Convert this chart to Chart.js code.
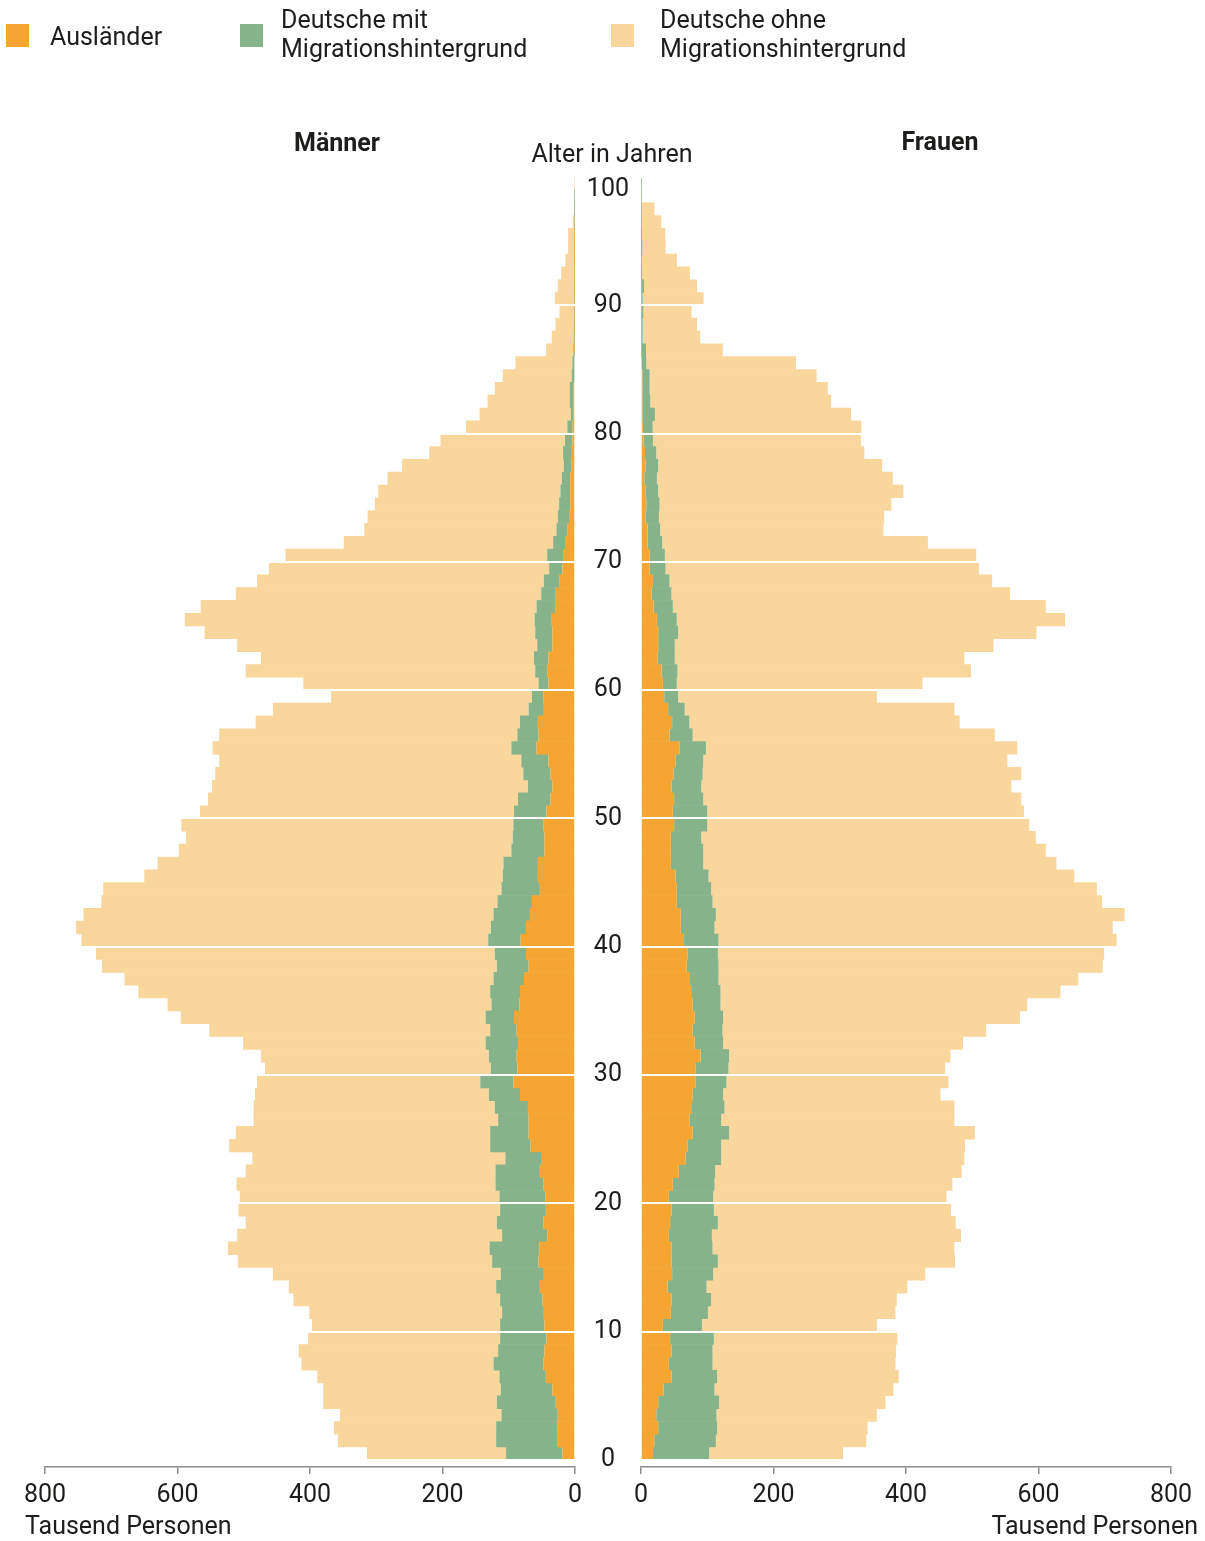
<!DOCTYPE html>
<html lang="de">
<head>
<meta charset="utf-8">
<script src="https://cdn.jsdelivr.net/npm/chart.js@4.4.1/dist/chart.umd.min.js"></script>
<style>
html,body{margin:0;padding:0;background:#fff;}
body{width:1205px;height:1541px;position:relative;overflow:hidden;font-family:Roboto,sans-serif;color:#1d1d1b;}
.abs{position:absolute;}
.txt{font-size:25px;line-height:29px;white-space:nowrap;}
.sw{width:23px;height:23px;}
.b{font-weight:bold;}
</style>
</head>
<body>
<div id="wl" class="abs" style="left:0;top:0;width:600px;height:1541px"><canvas id="cl"></canvas></div>
<div id="wr" class="abs" style="left:575px;top:0;width:630px;height:1541px"><canvas id="cr"></canvas></div>

<div class="abs sw" style="left:6px;top:24px;background:#F5A531"></div>
<div class="abs txt" style="left:50px;top:22px">Ausländer</div>
<div class="abs sw" style="left:240px;top:24px;background:#86B389"></div>
<div class="abs txt" style="left:281px;top:5px">Deutsche mit<br>Migrationshintergrund</div>
<div class="abs sw" style="left:611px;top:24px;background:#F9D69C"></div>
<div class="abs txt" style="left:660px;top:5px">Deutsche ohne<br>Migrationshintergrund</div>

<div class="abs txt b" style="left:237px;width:200px;text-align:center;top:128px">Männer</div>
<div class="abs txt b" style="left:840px;width:200px;text-align:center;top:127px">Frauen</div>
<div class="abs txt" style="left:462px;width:300px;text-align:center;top:139px">Alter in Jahren</div>
<div class="abs txt" style="left:25px;top:1511px">Tausend Personen</div>
<div class="abs txt" style="right:7px;top:1511px">Tausend Personen</div>

<script>
const ages = [0,1,2,3,4,5,6,7,8,9,10,11,12,13,14,15,16,17,18,19,20,21,22,23,24,25,26,27,28,29,30,31,32,33,34,35,36,37,38,39,40,41,42,43,44,45,46,47,48,49,50,51,52,53,54,55,56,57,58,59,60,61,62,63,64,65,66,67,68,69,70,71,72,73,74,75,76,77,78,79,80,81,82,83,84,85,86,87,88,89,90,91,92,93,94,95,96,97,98,99];
const ageTicks = [0,10,20,30,40,50,60,70,80,90,100];
const valueTicks = [0,200,400,600,800];
const seriesNames = ['Ausländer','Deutsche mit Migrationshintergrund','Deutsche ohne Migrationshintergrund'];

// Männer (Tausend Personen), Alter 0..99
const menAuslaender = [19,27,27,26,29,34,44,48,46,43, 46,47,49,53,47,55,54,42,48,44, 45,48,53,50,67,70,70,71,83,93, 87,88,86,88,92,84,83,77,70,74, 82,74,68,65,53,56,56,46,46,48, 43,37,34,37,40,58,55,56,47,48, 40,42,40,34,34,35,30,29,24,19, 18,15,11,9,7,7,7,5,6,4, 3.6,2,2,2,1,1,0.5,0.5,0.3,0.3, 0.3,0.2,0.2,0.1,0.1,0.1,0,0,0,0];
const menMit = [85,92,92,85,89,78,70,75,70,70, 67,63,64,66,65,70,75,68,70,69, 69,72,67,55,61,58,46,50,47,50, 40,42,49,40,43,42,45,46,48,47, 49,53,55,52,58,53,52,50,48,45, 49,49,37,41,41,38,32,27,23,17, 15,18,22,23,26,26,28,22,23,20, 24,18,17,17,17,15,13,12,12,11, 8,4,6,6,4,3,2,1.5,1.2,1, 1,0.8,0.6,0.5,0.4,0.3,0.2,0.1,0.1,0];
const menOhne = [210,239,245,244,262,268,275,290,301,290, 284,291,312,313,344,384,395,400,379,395, 392,391,377,382,394,384,369,364,353,337, 341,344,366,424,460,489,531,557,596,602, 614,626,619,598,601,541,522,502,493,501, 474,468,477,465,456,451,450,399,386,303, 355,437,412,453,499,528,507,461,433,423, 395,316,290,287,278,275,263,244,202,188, 153,138,124,113,104,86,41,33,28,22, 29,25,20,14,10,10,3,1.5,0.7,0.3];

// Frauen (Tausend Personen), Alter 0..99
const womenAuslaender = [18,20,26,23,26,34,46,42,46,44, 33,45,46,40,47,46,46,42,44,46, 42,48,57,67,70,78,73,77,78,82, 82,90,81,78,81,78,77,74,69,70, 65,60,60,54,54,52,45,45,45,50, 48,50,46,49,52,58,43,47,41,35, 33,31,25,26,26,24,19,16,18,13, 13,10,10,7,8,7,5,7,6,4, 2.6,2,2,2,2,1,0.5,0.5,0.5,0.5, 0.5,0.5,0.3,0.2,0.2,0.1,0.1,0,0,0];
const womenMit = [85,93,89,91,92,77,69,66,62,66, 59,56,60,59,62,70,62,65,72,64, 67,63,55,54,51,55,48,49,46,47, 50,43,43,45,43,42,43,43,48,46, 52,51,53,54,52,50,49,49,46,50, 52,44,45,44,42,40,35,26,25,21, 21,24,26,25,30,30,29,30,25,24, 23,22,19,20,20,19,19,19,17,14, 15,19,12,11,11,7,7,2,2,3, 2,4,1.5,1,2,1.5,0.5,0.3,0.2,0.1];
const womenOhne = [202,227,227,242,251,270,274,276,277,277, 264,283,280,303,320,358,365,376,359,358, 352,359,372,367,368,371,352,347,328,335, 327,334,362,398,448,463,513,543,580,583, 601,601,617,588,582,552,533,517,505,486, 478,480,468,481,459,470,456,408,407,300, 371,443,437,481,541,586,563,511,487,473, 470,401,337,340,350,370,356,338,314,314, 315,296,273,269,252,226,116,87,82,73, 92,80,72,53,35,35,30,20,1,0.5];

const colors = ['#F5A531','#86B389','#F9D69C'];
const TEXT = '#1d1d1b';
const AXIS = '#8c8c8c';
Chart.defaults.font.family = 'Roboto';

function ds(values, k) {
  return {
    label: seriesNames[k],
    data: values.map((v, i) => ({x: v, y: ages[i] + 0.5})),
    backgroundColor: colors[k],
    borderWidth: 0,
    barPercentage: 1.04,
    categoryPercentage: 1
  };
}

function makeChart(id, series, left) {
  new Chart(document.getElementById(id), {
    type: 'bar',
    data: { datasets: series.map((s, k) => ds(s, k)) },
    options: {
      indexAxis: 'y',
      responsive: true,
      maintainAspectRatio: false,
      animation: false,
      events: [],
      layout: { padding: left ? {top:177, bottom:0, left:45, right:25} : {top:177, bottom:0, left:0, right:34} },
      plugins: { legend: {display:false}, tooltip: {enabled:false} },
      scales: {
        x: {
          type: 'linear',
          stacked: true,
          reverse: left,
          min: 0, max: 800,
          afterBuildTicks: s => { s.ticks = valueTicks.map(v => ({value: v})); },
          ticks: { font: {size: 25}, color: TEXT, padding: 7, maxRotation: 0 },
          grid: { drawOnChartArea: false, drawTicks: true, tickLength: 7, color: AXIS, lineWidth: 1.5 },
          border: { display: true, color: AXIS, width: 1.5 },
          afterFit: s => { s.height = 74; }
        },
        y: {
          type: 'linear',
          stacked: true,
          position: 'left',
          offset: false,
          min: -0.55, max: 100,
          afterBuildTicks: s => { s.ticks = ageTicks.map(v => ({value: v})); },
          ticks: left ? { display: false } : {
            display: true, font: {size: 25, lineHeight: 1.0}, color: TEXT, crossAlign: 'center', padding: 12,
            callback: v => (v === ageTicks[ageTicks.length - 1] ? ['', String(v)] : String(v))
          },
          grid: { offset: false, color: '#ffffff', lineWidth: 2, drawTicks: false, z: 1 },
          border: { display: false },
          z: 1,
          afterFit: s => { s.width = left ? 0 : 66; }
        }
      }
    }
  });
}

makeChart('cl', [menAuslaender, menMit, menOhne], true);
makeChart('cr', [womenAuslaender, womenMit, womenOhne], false);
</script>
</body>
</html>
